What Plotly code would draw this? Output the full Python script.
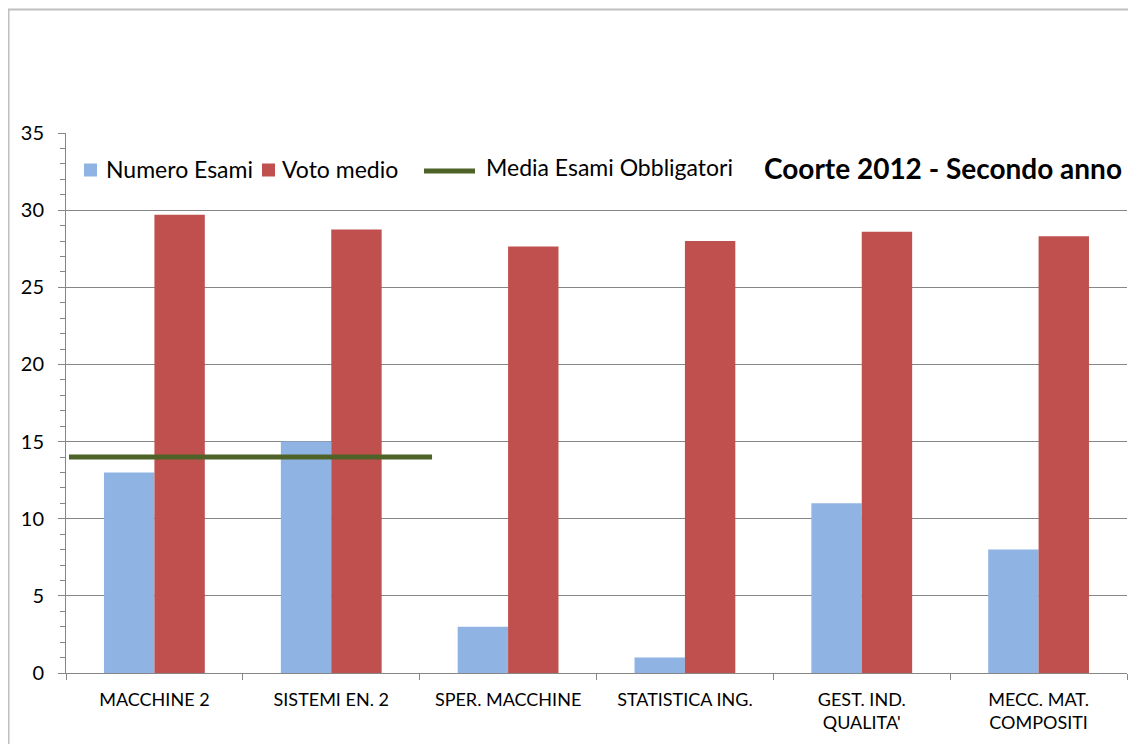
import plotly.graph_objects as go

categories = ["MACCHINE 2", "SISTEMI EN. 2", "SPER. MACCHINE", "STATISTICA ING.",
              "GEST. IND.<br>QUALITA'", "MECC. MAT.<br>COMPOSITI"]
numero_esami = [13, 15, 3, 1, 11, 8]
voto_medio = [29.7, 28.75, 27.65, 28.0, 28.6, 28.3]
media_obbligatori = [14, 14]
media_x_span = [-0.483, 1.57]
series_names = ["Numero Esami", "Voto medio", "Media Esami Obbligatori"]
title_text = "Coorte 2012 - Secondo anno"

FONT = "Lato"
BLUE, RED, GREEN = "#8FB4E3", "#C0504D", "#4F6228"
OFF = 8  # page body margin offset
W, H = 1136 - OFF, 744 - OFF
# plot area in reference pixel coordinates
PL, PR, PT, PB = 66, 1127, 133, 673
L, T = PL - OFF, PT - OFF
R, B = W - (PR - OFF), H - (PB - OFF)
pw, ph = PR - PL, PB - PT

def px_x(p):
    return (p - PL) / pw

def px_y(p):
    return (PB - p) / ph

fig = go.Figure()
fig.add_trace(go.Bar(name=series_names[0], x=categories, y=numero_esami,
                     marker=dict(color=BLUE, line=dict(width=0))))
fig.add_trace(go.Bar(name=series_names[1], x=categories, y=voto_medio,
                     marker=dict(color=RED, line=dict(width=0))))
fig.add_trace(go.Scatter(name=series_names[2], x=media_x_span, y=media_obbligatori,
                         mode="lines", line=dict(color=GREEN, width=5), xaxis="x2"))

# manual legend (Excel-style layout)
LEG_Y = 170
shapes = [
    dict(type="rect", xref="paper", yref="paper",
         x0=px_x(8.5), x1=px_x(1160), y0=px_y(770), y1=px_y(9.5),
         line=dict(color="#BFBFBF", width=2), fillcolor="rgba(0,0,0,0)", layer="below"),
    dict(type="rect", xref="paper", yref="paper", x0=px_x(84), x1=px_x(97),
         y0=px_y(LEG_Y + 6.5), y1=px_y(LEG_Y - 6.5), fillcolor=BLUE, line=dict(width=0)),
    dict(type="rect", xref="paper", yref="paper", x0=px_x(262), x1=px_x(275),
         y0=px_y(LEG_Y + 6.5), y1=px_y(LEG_Y - 6.5), fillcolor=RED, line=dict(width=0)),
    dict(type="line", xref="paper", yref="paper", x0=px_x(424), x1=px_x(475),
         y0=px_y(LEG_Y + 1), y1=px_y(LEG_Y + 1), line=dict(color=GREEN, width=5)),
]
annotations = [
    dict(text=series_names[0], x=px_x(104), y=px_y(LEG_Y - 1)),
    dict(text=series_names[1], x=px_x(280), y=px_y(LEG_Y - 1)),
    dict(text=series_names[2], x=px_x(484), y=px_y(LEG_Y - 3)),
]
for a in annotations:
    a.update(xref="paper", yref="paper", xanchor="left", yanchor="middle", showarrow=False,
             font=dict(size=23, family=FONT, color="black"))
annotations.append(dict(text="<b>" + title_text + "</b>", xref="paper", yref="paper",
                        x=px_x(1124), y=px_y(168), xanchor="right", yanchor="middle",
                        showarrow=False, font=dict(size=28, family=FONT, color="black")))

fig.update_layout(
    width=W, height=H,
    margin=dict(l=L, r=R, t=T, b=B, pad=0),
    paper_bgcolor="white", plot_bgcolor="white",
    barmode="group", bargap=0.43, bargroupgap=0,
    font=dict(family=FONT, color="black"),
    showlegend=False,
    xaxis=dict(type="category", tickson="boundaries", ticks="outside", ticklen=6,
               tickcolor="#868686", showline=True, linecolor="#868686", linewidth=1,
               showgrid=False, tickfont=dict(size=18, family=FONT), range=[-0.5, 5.5],
               ticklabelstandoff=10),
    xaxis2=dict(overlaying="x", range=[-0.5, 5.5], visible=False),
    yaxis=dict(range=[0, 35], dtick=5, ticks="outside", ticklen=7, tickcolor="#868686",
               showline=True, linecolor="#868686", linewidth=1,
               showgrid=True, gridcolor="#868686", gridwidth=1,
               tickfont=dict(size=20, family=FONT), ticklabelstandoff=10,
               minor=dict(dtick=1, ticks="outside", ticklen=5, tickcolor="#868686", showgrid=False),
               zeroline=False),
    annotations=annotations,
    shapes=shapes,
)

fig.write_html("out.html")
